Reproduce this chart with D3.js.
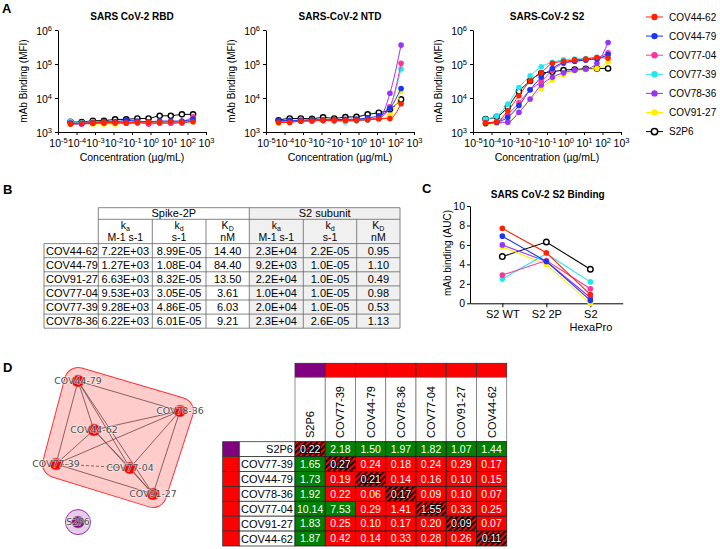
<!DOCTYPE html>
<html>
<head>
<meta charset="utf-8">
<script src="https://cdn.jsdelivr.net/npm/d3@7"></script>
<style>
body{margin:0;background:#fff}
svg{font-family:"Liberation Sans",Arial,sans-serif}
</style>
</head>
<body>
<script>
// ---------- data ----------
var mabs   = ['COV44-62','COV44-79','COV77-04','COV77-39','COV78-36','COV91-27','S2P6'];
var colors = ['#ff2200','#1a35f5','#ff3399','#22e6f0','#9933ff','#ffee00','#000000'];
var conc   = [0.0000477,0.000191,0.000763,0.00305,0.0122,0.0488,0.195,0.781,3.125,12.5,50,200];
var xTicks = [1e-5,1e-4,1e-3,1e-2,1e-1,1e0,1e1,1e2,1e3];
var yTicks = [1e3,1e4,1e5,1e6];

// MFI, one row per mAb in "mabs" order, low -> high concentration
var rbdMFI = [
  [1700,1800,1850,1900,1900,1850,1950,1950,1950,2000,1950,2000],
  [1800,1800,1900,2000,2000,2200,2100,2000,2100,2100,2100,2400],
  [1850,1750,1900,1850,1950,1900,2000,1700,1800,1800,2000,2800],
  [2050,1900,2000,2000,1950,2100,1900,1850,1900,1950,2000,2300],
  [1750,1700,1800,1800,1850,1800,1850,1800,1850,1850,1850,2200],
  [1700,1750,1700,1700,1700,1800,1800,1800,1850,1850,1900,2000],
  [2000,1950,2150,2150,2350,2350,2500,2500,3000,3000,3300,3300]
];
var ntdMFI = [
  [1900,1900,2100,2100,2200,2200,2200,2200,2300,2450,2500,6800],
  [2150,2200,2200,2300,2300,2300,2350,2400,2600,3000,5000,19000],
  [2000,2100,2100,2200,2200,2200,2200,2300,2400,2600,5500,105000],
  [2100,2150,2200,2200,2200,2100,2000,2100,2300,2700,5500,72000],
  [2100,2100,2100,2150,2200,2100,2250,2200,2300,2500,13800,360000],
  [1800,2000,2100,2100,2150,2200,2100,2200,2300,2400,3100,16000],
  [2200,2500,2500,2450,2700,2500,2750,2800,3300,3700,4600,9100]
];
var s2MFI = [
  [1860,2000,4200,11700,31600,55000,105000,120000,132000,141000,155000,148000],
  [1780,1950,2700,6000,17400,40700,74100,110000,120000,132000,141000,190000],
  [1900,2000,3300,7200,17400,30200,66000,105000,120000,132000,151000,214000],
  [2400,2950,6600,20400,44700,83000,112000,132000,141000,145000,158000,174000],
  [1780,1900,1950,3800,9300,24000,40700,55000,66000,70800,105000,427000],
  [1700,1780,2000,3800,8900,19000,33900,47900,63100,69200,74100,117000],
  [2400,2800,5400,15500,31600,53700,58900,66100,69200,72400,74100,74100]
];

// panel B table
var tblRows  = ['COV44-62','COV44-79','COV91-27','COV77-04','COV77-39','COV78-36'];
var spKa = ['7.22E+03','1.27E+03','6.63E+03','9.53E+03','9.28E+03','6.22E+03'];
var spKd = ['8.99E-05','1.08E-04','8.32E-05','3.05E-05','4.86E-05','6.01E-05'];
var spKD = ['14.40','84.40','13.50','3.61','6.03','9.21'];
var s2Ka = ['2.3E+04','9.2E+03','2.2E+04','1.0E+04','2.0E+04','2.3E+04'];
var s2Kd = ['2.2E-05','1.0E-05','1.0E-05','1.0E-05','1.0E-05','2.6E-05'];
var s2KD = ['0.95','1.10','0.49','0.98','0.53','1.13'];

// panel C AUC
var aucCats = ['S2 WT','S2 2P','S2 HexaPro'];
var aucVals = [
  [7.7,5.2,0.9],
  [6.9,4.3,0.3],
  [2.9,4.4,1.5],
  [2.5,5.1,2.2],
  [6.0,4.3,0.6],
  [5.8,4.0,0.0],
  [4.8,6.3,3.5]
];

// panel D competition matrix
var hmNames = ['S2P6','COV77-39','COV44-79','COV78-36','COV77-04','COV91-27','COV44-62'];
var hmGroup = ['S2P6','A','A','A','A','A','A'];
var hmVals = [
  [0.22,2.18,1.50,1.97,1.82,1.07,1.44],
  [1.65,0.27,0.24,0.18,0.24,0.29,0.17],
  [1.73,0.19,0.21,0.14,0.16,0.10,0.15],
  [1.92,0.22,0.06,0.17,0.09,0.10,0.07],
  [10.14,7.53,0.29,1.41,1.55,0.33,0.25],
  [1.83,0.25,0.10,0.17,0.20,0.09,0.07],
  [1.87,0.42,0.14,0.33,0.28,0.26,0.11]
];
var netNodes = ['COV44-79','COV78-36','COV44-62','COV77-39','COV77-04','COV91-27','S2P6'];
var netLX = [3.06, 8.63, 3.93, 1.86, 5.90, 7.16, 3.06];   // layout units
var netLY = [0.44, 1.75, 2.58, 4.07, 4.24, 5.38, 6.61];
var netDashed = [['COV77-39','COV77-04']];

// ---------- drawing ----------
var svg = d3.select('body').append('svg').attr('width',720).attr('height',549);

[['A',2,13],['B',3,194],['C',422,193],['D',3,372]].forEach(function(p){
  svg.append('text').attr('x',p[1]).attr('y',p[2]).attr('font-size',13).attr('font-weight','bold').text(p[0]);
});

function supLabel(sel){
  sel.each(function(d){
    var t = d3.select(this); t.text('');
    t.append('tspan').text('10');
    t.append('tspan').attr('dy',-4).attr('font-size',7.5).text(Math.round(Math.log10(d)));
  });
}

function logPlot(x0, title, data){
  var x = d3.scaleLog().domain([1e-5,1e3]).range([x0,x0+148]);
  var y = d3.scaleLog().domain([1e3,1e6]).range([132,30]);
  var g = svg.append('g');
  var xa = g.append('g').attr('transform','translate(0,132)')
    .call(d3.axisBottom(x).tickValues(xTicks).tickSize(3).tickSizeOuter(0));
  xa.selectAll('.tick text').attr('font-size',10.5).attr('dy','0.9em').attr('font-family',null).call(supLabel);
  var ya = g.append('g').attr('transform','translate('+x0+',0)')
    .call(d3.axisLeft(y).tickValues(yTicks).tickSize(3).tickSizeOuter(0));
  ya.selectAll('.tick text').attr('font-size',10.5).attr('dy','0.45em').attr('font-family',null).call(supLabel);
  g.selectAll('.domain, .tick line').attr('stroke','#000');
  g.append('text').attr('x',x0+74).attr('y',20).attr('text-anchor','middle')
    .attr('font-size',10).attr('font-weight','bold').text(title);
  g.append('text').attr('x',x0+74).attr('y',161).attr('text-anchor','middle')
    .attr('font-size',10.5).text('Concentration (\u00b5g/mL)');
  g.append('text').attr('transform','translate('+(x0-31)+',81) rotate(-90)').attr('text-anchor','middle')
    .attr('font-size',10).text('mAb Binding (MFI)');

  var line = d3.line().x(function(d){return x(d[0]);}).y(function(d){return y(d[1]);}).curve(d3.curveMonotoneX);
  for (var i = mabs.length-1; i >= 0; i--){
    var pts = conc.map(function(c,j){return [c, data[i][j]];});
    g.append('path').attr('d',line(pts)).attr('fill','none').attr('stroke',colors[i]).attr('stroke-width',1);
    g.selectAll(null).data(pts).enter().append('circle')
      .attr('cx',function(d){return x(d[0]);}).attr('cy',function(d){return y(d[1]);})
      .attr('r', mabs[i]==='S2P6' ? 2.6 : 2.8)
      .attr('fill', mabs[i]==='S2P6' ? '#fff' : colors[i])
      .attr('stroke', mabs[i]==='S2P6' ? '#000' : 'none')
      .attr('stroke-width',1.4);
  }
}
logPlot(58,'SARS CoV-2 RBD',rbdMFI);
logPlot(266,'SARS-CoV-2 NTD',ntdMFI);
logPlot(473,'SARS-CoV-2 S2',s2MFI);

// legend
var lg = svg.append('g');
mabs.forEach(function(m,i){
  var yy = 17 + i*19.1;
  lg.append('line').attr('x1',646).attr('x2',663).attr('y1',yy).attr('y2',yy).attr('stroke',colors[i]);
  lg.append('circle').attr('cx',654.5).attr('cy',yy).attr('r',3.2)
    .attr('fill', m==='S2P6' ? '#fff' : colors[i]).attr('stroke', m==='S2P6' ? '#000' : 'none').attr('stroke-width',1.5);
  lg.append('text').attr('x',669).attr('y',yy).attr('dy','0.36em').attr('font-size',10).text(m);
});

// ---------- panel B table ----------
var colEdges = [44,98.3,152.3,206,249.3,303.3,356.7,400];
var rowTop = 243.6, rowH = 14.1, hTop = 207.7, hMid = 219.3;
var tb = svg.append('g').attr('font-size',11);
tb.append('rect').attr('x',colEdges[4]).attr('y',hTop).attr('width',colEdges[7]-colEdges[4])
  .attr('height',rowTop+rowH*6-hTop).attr('fill','#f0f0f0');
var cols = [spKa,spKd,spKD,s2Ka,s2Kd,s2KD];
var subs = [['k','a','M-1 s-1'],['k','d','s-1'],['K','D','nM']];
cols.forEach(function(col,c){
  var cx = (colEdges[c+1]+colEdges[c+2])/2;
  var s = subs[c%3];
  var t = tb.append('text').attr('x',cx).attr('y',229).attr('text-anchor','middle').attr('font-size',10.5);
  t.append('tspan').text(s[0]);
  t.append('tspan').attr('dy',2).attr('font-size',7).text(s[1]);
  tb.append('text').attr('x',cx).attr('y',241).attr('text-anchor','middle').attr('font-size',10.5).text(s[2]);
  tb.selectAll(null).data(col).enter().append('text')
    .attr('x',cx).attr('y',function(d,r){return rowTop+rowH*r+rowH/2;}).attr('dy','0.36em')
    .attr('text-anchor','middle').text(function(d){return d;});
});
tblRows.forEach(function(r,i){
  tb.append('text').attr('x',colEdges[0]+2).attr('y',rowTop+rowH*i+rowH/2).attr('dy','0.36em').text(r);
});
tb.append('text').attr('x',(colEdges[1]+colEdges[4])/2).attr('y',(hTop+hMid)/2).attr('dy','0.36em').attr('text-anchor','middle').text('Spike-2P');
tb.append('text').attr('x',(colEdges[4]+colEdges[7])/2).attr('y',(hTop+hMid)/2).attr('dy','0.36em').attr('text-anchor','middle').text('S2 subunit');
var gl = tb.append('g').attr('stroke','#666').attr('stroke-width',0.8);
var bot = rowTop+rowH*6;
gl.append('line').attr('x1',colEdges[1]).attr('x2',colEdges[7]).attr('y1',hTop).attr('y2',hTop);
gl.append('line').attr('x1',colEdges[1]).attr('x2',colEdges[7]).attr('y1',hMid).attr('y2',hMid);
for (var r = 0; r <= 6; r++){
  gl.append('line').attr('x1',colEdges[0]).attr('x2',colEdges[7]).attr('y1',rowTop+rowH*r).attr('y2',rowTop+rowH*r);
}
colEdges.forEach(function(x,i){
  var top = i===0 ? rowTop : ((i===1||i===4||i===7) ? hTop : hMid);
  gl.append('line').attr('x1',x).attr('x2',x).attr('y1',top).attr('y2',bot);
});

// ---------- panel C ----------
var cx = d3.scalePoint().domain(aucCats).range([470,622.7]).padding(0.735);
var cy = d3.scaleLinear().domain([0,10]).range([303.3,206]);
var gc = svg.append('g');
var cxa = gc.append('g').attr('transform','translate(0,303.3)').call(d3.axisBottom(cx).tickSize(4).tickSizeOuter(0));
cxa.selectAll('.tick text').attr('font-size',11).attr('font-family',null).each(function(d){
  var t = d3.select(this);
  if (d === 'S2 HexaPro'){
    t.text('');
    t.append('tspan').attr('x',0).text('S2');
    t.append('tspan').attr('x',0).attr('dy','1.15em').text('HexaPro');
  }
});
var cya = gc.append('g').attr('transform','translate(470,0)').call(d3.axisLeft(cy).ticks(5).tickSize(3).tickPadding(2).tickSizeOuter(0));
cya.selectAll('.tick text').attr('font-size',10.5).attr('font-family',null);
gc.selectAll('.domain, .tick line').attr('stroke','#000');
gc.append('text').attr('x',547.7).attr('y',198).attr('text-anchor','middle').attr('font-size',10).attr('font-weight','bold').text('SARS CoV-2 S2 Binding');
gc.append('text').attr('transform','translate(451,253) rotate(-90)').attr('text-anchor','middle').attr('font-size',10).text('mAb binding (AUC)');
for (var i = mabs.length-1; i >= 0; i--){
  var pts = aucCats.map(function(c,j){return [c, aucVals[i][j]];});
  gc.append('path').attr('d',d3.line().x(function(d){return cx(d[0]);}).y(function(d){return cy(d[1]);})(pts))
    .attr('fill','none').attr('stroke',colors[i]).attr('stroke-width',1.1);
  gc.selectAll(null).data(pts).enter().append('circle')
    .attr('cx',function(d){return cx(d[0]);}).attr('cy',function(d){return cy(d[1]);}).attr('r',2.8)
    .attr('fill', mabs[i]==='S2P6' ? '#fff' : colors[i]).attr('stroke', mabs[i]==='S2P6' ? '#000' : 'none').attr('stroke-width',1.4);
}

// ---------- panel D network ----------
var nx = d3.scaleLinear().domain([0,10]).range([22,205]);
var ny = d3.scaleLinear().domain([0,7]).range([371,531]);
var pos = {};
netNodes.forEach(function(n,i){ pos[n] = [nx(netLX[i]), ny(netLY[i])]; });
var gn = svg.append('g');
var grpA = netNodes.filter(function(n){return n!=='S2P6';});
var hull = d3.polygonHull(grpA.map(function(n){return pos[n];}));
var hullPath = 'M' + hull.join('L') + 'Z';
gn.append('path').attr('d',hullPath).attr('fill','#ff3333').attr('stroke','#ff3333').attr('stroke-width',28).attr('stroke-linejoin','round');
gn.append('path').attr('d',hullPath).attr('fill','#ffcccc').attr('stroke','#ffcccc').attr('stroke-width',26).attr('stroke-linejoin','round');
gn.append('circle').attr('cx',pos['S2P6'][0]).attr('cy',pos['S2P6'][1]).attr('r',12.5).attr('fill','#e6cce8').attr('stroke','#9933aa').attr('stroke-width',1);
var edges = [];
grpA.forEach(function(a,i){ grpA.forEach(function(b,j){ if (j>i) edges.push([a,b]); }); });
edges.forEach(function(e){
  var dashed = netDashed.some(function(d){return (d[0]===e[0]&&d[1]===e[1])||(d[0]===e[1]&&d[1]===e[0]);});
  gn.append('line').attr('x1',pos[e[0]][0]).attr('y1',pos[e[0]][1]).attr('x2',pos[e[1]][0]).attr('y2',pos[e[1]][1])
    .attr('stroke','#6b4545').attr('stroke-width',0.8).attr('stroke-dasharray',dashed ? '3,2' : null);
});
netNodes.forEach(function(n){
  gn.append('ellipse').attr('cx',pos[n][0]).attr('cy',pos[n][1]).attr('rx',6.5).attr('ry',6)
    .attr('fill', n==='S2P6' ? '#800080' : '#ff0000').attr('stroke','#999').attr('stroke-width',0.6);
});
netNodes.forEach(function(n){
  gn.append('text').attr('x',pos[n][0]).attr('y',pos[n][1]).attr('dy','0.35em').attr('text-anchor','middle')
    .attr('font-family','"DejaVu Sans",sans-serif').attr('font-size',9.4)
    .attr('fill','#4a4a4a').attr('stroke','#fff').attr('stroke-width',1.4).attr('stroke-opacity',0.6)
    .attr('paint-order','stroke').text(n);
});

// ---------- panel D heatmap ----------
var defs = svg.append('defs');
var pat = defs.append('pattern').attr('id','hatch').attr('patternUnits','userSpaceOnUse').attr('width',4).attr('height',4)
  .attr('patternTransform','rotate(45)');
pat.append('rect').attr('width',4).attr('height',4).attr('fill','#ff0000');
pat.append('rect').attr('width',1.8).attr('height',4).attr('fill','#000');

var hx = d3.scaleBand().domain(hmNames).range([295,506.7]);
var hy = d3.scaleBand().domain(hmNames).range([441.7,546]);
var grpColor = function(g){ return g==='S2P6' ? '#800080' : '#ff0000'; };
var gh = svg.append('g');
// column colour bar + header cells
hmNames.forEach(function(n,i){
  gh.append('rect').attr('x',hx(n)).attr('y',363.3).attr('width',hx.bandwidth()).attr('height',14)
    .attr('fill',grpColor(hmGroup[i])).attr('stroke','#333').attr('stroke-width',0.8);
  gh.append('rect').attr('x',hx(n)).attr('y',377.3).attr('width',hx.bandwidth()).attr('height',441.7-377.3)
    .attr('fill','#fff').attr('stroke','#777').attr('stroke-width',0.8);
  gh.append('text').attr('transform','translate('+(hx(n)+hx.bandwidth()/2)+',438) rotate(-90)')
    .attr('dy','0.36em').attr('font-size',11).text(n);
  // row colour + row label
  gh.append('rect').attr('x',222.7).attr('y',hy(n)).attr('width',16.6).attr('height',hy.bandwidth())
    .attr('fill',grpColor(hmGroup[i])).attr('stroke','#333').attr('stroke-width',0.8);
  gh.append('rect').attr('x',239.3).attr('y',hy(n)).attr('width',295-239.3).attr('height',hy.bandwidth())
    .attr('fill','#fff').attr('stroke','#333').attr('stroke-width',0.8);
  gh.append('text').attr('x',293).attr('y',hy(n)+hy.bandwidth()/2).attr('dy','0.36em')
    .attr('text-anchor','end').attr('font-size',11).text(n);
});
hmVals.forEach(function(row,i){
  row.forEach(function(v,j){
    var diag = i===j;
    var fill = diag ? 'url(#hatch)' : ((hmGroup[i]!==hmGroup[j] || v > 2) ? '#008000' : '#ff0000');
    gh.append('rect').attr('x',hx(hmNames[j])).attr('y',hy(hmNames[i])).attr('width',hx.bandwidth()).attr('height',hy.bandwidth())
      .attr('fill',fill).attr('stroke','#222').attr('stroke-width',0.8);
    gh.append('text').attr('x',hx(hmNames[j])+hx.bandwidth()/2).attr('y',hy(hmNames[i])+hy.bandwidth()/2).attr('dy','0.36em')
      .attr('text-anchor','middle').attr('font-size',10.5).attr('fill','#fff')
      .attr('stroke',diag ? '#000' : 'none').attr('stroke-width',diag ? 1.5 : 0).attr('paint-order','stroke')
      .text(d3.format('.2f')(v));
  });
});
</script>
</body>
</html>
